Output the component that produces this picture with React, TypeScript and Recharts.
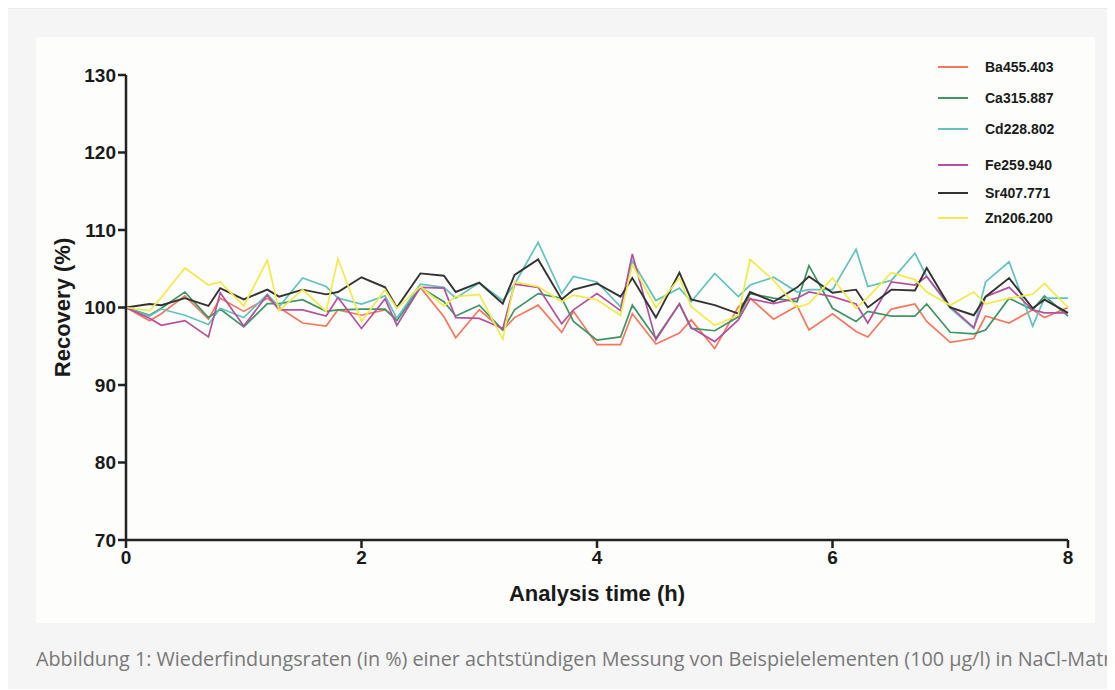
import React from 'react';
import { LineChart, Line, XAxis, YAxis, Legend } from 'recharts';

const times = [0, 0.2, 0.3, 0.5, 0.7, 0.8, 1, 1.2, 1.3, 1.5, 1.7, 1.8, 2, 2.2, 2.3, 2.5, 2.7, 2.8, 3, 3.2, 3.3, 3.5, 3.7, 3.8, 4, 4.2, 4.3, 4.5, 4.7, 4.8, 5, 5.2, 5.3, 5.5, 5.7, 5.8, 6, 6.2, 6.3, 6.5, 6.7, 6.8, 7, 7.2, 7.3, 7.5, 7.7, 7.8, 8];

const ba455 = [100, 98.3, 99.2, 101.5, 98.5, 101.2, 99.5, 101.2, 100, 98.0, 97.6, 99.7, 99.0, 99.7, 98.5, 102.6, 98.8, 96.1, 99.7, 97.1, 98.7, 100.3, 96.8, 99.5, 95.2, 95.2, 99.2, 95.3, 96.7, 98.4, 94.7, 100.1, 101.2, 98.5, 100.2, 97.1, 99.2, 96.9, 96.2, 99.8, 100.45, 98.2, 95.5, 96.0, 98.9, 98.0, 99.7, 98.7, 100.0];
const ca315 = [100, 99.0, 99.9, 102.0, 98.7, 99.8, 97.5, 100.5, 100.5, 101.0, 99.5, 99.7, 99.8, 99.8, 98.3, 102.6, 100.75, 98.9, 100.3, 97.1, 99.7, 101.8, 101.2, 98.2, 95.8, 96.2, 100.3, 96.0, 100.45, 97.3, 97.0, 98.8, 101.8, 101.2, 100.75, 105.4, 99.9, 98.2, 99.5, 98.9, 98.9, 100.45, 96.8, 96.6, 97.1, 101.2, 99.7, 101.5, 98.9];
const cd228 = [100, 98.9, 99.8, 99.0, 97.8, 99.9, 98.7, 101.7, 100.1, 103.8, 102.7, 101.2, 100.45, 101.5, 98.6, 103.0, 102.6, 101.2, 103.2, 100.9, 103.0, 108.4, 101.8, 104.0, 103.3, 100.1, 106.0, 100.9, 102.5, 100.75, 104.4, 101.4, 102.9, 103.9, 102.0, 102.3, 102.3, 107.5, 102.7, 103.5, 107.0, 104.0, 99.9, 97.3, 103.3, 105.9, 97.6, 101.2, 101.2];
const fe259 = [100, 98.6, 97.7, 98.3, 96.2, 101.9, 97.6, 101.6, 99.7, 99.7, 98.9, 101.3, 97.3, 101.1, 97.7, 102.6, 102.5, 98.7, 98.6, 97.3, 103.0, 102.6, 97.9, 99.7, 101.8, 99.6, 106.9, 95.8, 100.5, 97.4, 95.6, 98.4, 101.1, 100.5, 101.2, 102.0, 101.4, 100.45, 98.0, 103.3, 102.9, 104.0, 100.1, 97.4, 101.4, 102.6, 99.7, 99.3, 99.3];
const sr407 = [100, 100.45, 100.3, 101.2, 100.2, 102.5, 101.05, 102.3, 101.4, 102.3, 101.7, 102.0, 103.9, 102.6, 100.0, 104.4, 104.1, 102.0, 103.2, 100.5, 104.2, 106.2, 101.05, 102.3, 103.1, 101.4, 103.8, 98.7, 104.5, 101.05, 100.3, 99.2, 102.0, 100.75, 102.6, 104.0, 101.9, 102.3, 100.0, 102.3, 102.2, 105.1, 100.0, 99.0, 101.4, 103.8, 99.9, 101.0, 99.3];
const zn206 = [100, 99.6, 101.3, 105.1, 102.9, 103.3, 100.2, 106.1, 99.6, 102.3, 99.5, 106.3, 98.2, 102.3, 99.9, 102.7, 100.2, 101.4, 101.7, 95.9, 103.3, 102.7, 100.75, 101.6, 101.0, 99.0, 105.5, 100.0, 103.8, 100.1, 97.7, 99.0, 106.2, 103.5, 100.0, 100.5, 103.8, 99.9, 101.3, 104.5, 103.6, 102.0, 100.3, 102.0, 100.45, 101.2, 101.7, 103.1, 100.0];

const seriesNames = ['Ba455.403', 'Ca315.887', 'Cd228.802', 'Fe259.940', 'Sr407.771', 'Zn206.200'];
const seriesValues = [ba455, ca315, cd228, fe259, sr407, zn206];
const seriesColors = ['#F3785F', '#3F9464', '#63C2BD', '#B4519F', '#333333', '#F2EA4A'];

const xTicks = [0, 2, 4, 6, 8];
const yTicks = [70, 80, 90, 100, 110, 120, 130];

const data = times.map((t, i) => {
  const row: Record<string, number> = { t };
  seriesNames.forEach((n, k) => {
    row[n] = seriesValues[k][i];
  });
  return row;
});

const legendGaps = [0, 11, 11, 16, 8, 5];

const FONT = '"Liberation Sans", Arial, sans-serif';

const LegendContent = (props: any) => {
  const payload = props.payload || [];
  return (
    <div style={{ fontFamily: FONT }}>
      {payload.map((p: any, i: number) => (
        <div
          key={p.value}
          style={{ display: 'flex', alignItems: 'center', height: 20, marginTop: legendGaps[i] }}
        >
          <div style={{ width: 30, height: 2, background: p.color, marginRight: 17 }} />
          <span style={{ fontSize: 14, fontWeight: 700, color: '#1a1a1a' }}>{p.value}</span>
        </div>
      ))}
    </div>
  );
};

const YLabel = (props: any) => {
  const vb = props.viewBox || { x: 0, y: 0, width: 0, height: 0 };
  const cx = vb.x + 26;
  const cy = vb.y + vb.height / 2;
  return (
    <text
      x={cx}
      y={cy}
      transform={`rotate(-90 ${cx} ${cy})`}
      textAnchor="middle"
      dominantBaseline="central"
      style={{ fontFamily: FONT, fontSize: 22, fontWeight: 700, fill: '#1a1a1a' }}
    >
      Recovery (%)
    </text>
  );
};

const XLabel = (props: any) => {
  const vb = props.viewBox || { x: 0, y: 0, width: 0, height: 0 };
  const cx = vb.x + vb.width / 2;
  const cy = vb.y + 53;
  return (
    <text
      x={cx}
      y={cy}
      textAnchor="middle"
      dominantBaseline="central"
      style={{ fontFamily: FONT, fontSize: 22, fontWeight: 700, fill: '#1a1a1a' }}
    >
      Analysis time (h)
    </text>
  );
};

export default function App() {
  return (
    <div
      style={{
        position: 'relative',
        width: 1108,
        height: 682,
        marginLeft: -1,
        marginTop: -1,
        background: '#f5f5f5',
        borderTop: '2px solid #ebebeb',
        borderLeft: '1px solid #e6e6e6',
        boxSizing: 'border-box',
        overflow: 'hidden',
      }}
    >
      <div
        style={{
          position: 'absolute',
          left: 28,
          top: 28,
          width: 1059,
          height: 586,
          background: '#fdfdfc',
        }}
      >
        <LineChart
          width={1059}
          height={586}
          data={data}
          margin={{ top: 38, right: 27, left: 0, bottom: 0 }}
        >
          <XAxis
            dataKey="t"
            type="number"
            domain={[0, 8]}
            ticks={xTicks}
            height={83}
            tickSize={8}
            tickMargin={3}
            axisLine={{ stroke: '#222', strokeWidth: 2.5 }}
            tickLine={{ stroke: '#222', strokeWidth: 2.5 }}
            tick={{ fontFamily: FONT, fontSize: 19, fontWeight: 700, fill: '#1a1a1a' }}
            label={<XLabel />}
          />
          <YAxis
            type="number"
            domain={[70, 130]}
            ticks={yTicks}
            width={90}
            tickSize={8}
            tickMargin={2}
            axisLine={{ stroke: '#222', strokeWidth: 2.5 }}
            tickLine={{ stroke: '#222', strokeWidth: 2.5 }}
            tick={{ fontFamily: FONT, fontSize: 19, fontWeight: 700, fill: '#1a1a1a' }}
            label={<YLabel />}
          />
          <Legend
            content={<LegendContent />}
            layout="vertical"
            verticalAlign="middle"
            align="center"
            wrapperStyle={{ position: 'absolute', left: 902, top: 20, width: 150 }}
          />
          {seriesNames.map((n, k) => (
            <Line
              key={n}
              type="linear"
              dataKey={n}
              name={n}
              stroke={seriesColors[k]}
              strokeWidth={k === 4 ? 1.9 : 1.7}
              dot={false}
              activeDot={false}
              isAnimationActive={false}
            />
          ))}
        </LineChart>
      </div>
      <div
        style={{
          position: 'absolute',
          left: 28,
          top: 638,
          whiteSpace: 'nowrap',
          fontFamily: '"Open Sans", "Noto Sans", sans-serif',
          fontSize: 19.8,
          lineHeight: '24px',
          color: '#787878',
        }}
      >
        Abbildung 1: Wiederfindungsraten (in %) einer achtstündigen Messung von Beispielelementen (100 µg/l) in NaCl-Matrix
      </div>
    </div>
  );
}
